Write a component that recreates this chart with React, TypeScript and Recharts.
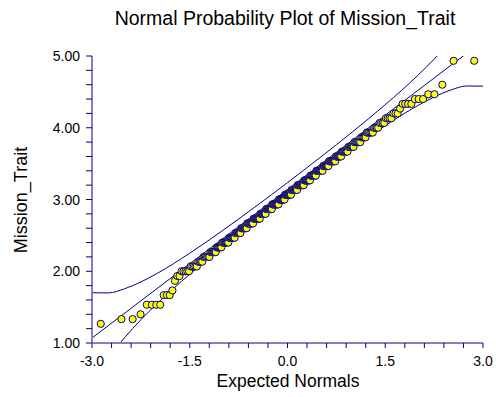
import { ComposedChart, Line, Scatter, XAxis, YAxis } from 'recharts';

// distinct Mission_Trait scores and how many respondents sit at each one (n = 300)
const traitLevels = [
  1.267, 1.333, 1.4, 1.533, 1.667, 1.733, 1.867, 1.933, 2.0, 2.067,
  2.133, 2.2, 2.267, 2.333, 2.4, 2.467, 2.533, 2.6, 2.667, 2.733,
  2.8, 2.867, 2.933, 3.0, 3.067, 3.133, 3.2, 3.267, 3.333, 3.4,
  3.467, 3.533, 3.6, 3.667, 3.733, 3.8, 3.867, 3.933, 4.0, 4.067,
  4.133, 4.2, 4.267, 4.333, 4.4, 4.467, 4.6, 4.933,
];
const levelCounts = [
  1, 2, 1, 4, 3, 1, 1, 2, 5, 5,
  4, 6, 6, 6, 8, 8, 8, 9, 10, 11,
  10, 11, 12, 11, 12, 11, 12, 11, 10, 11,
  9, 10, 8, 8, 7, 7, 5, 6, 4, 4,
  4, 3, 1, 4, 3, 2, 1, 2,
];

// reference line and confidence band
const fitX = [-3, 3];
const fitY = [1.07, 5.21];
const bandX = [-3, -2.75, -2.5, -2.25, -2, -1.75, -1.5, -1.25, -1, -0.75, -0.5, -0.25, 0, 0.25, 0.5, 0.75, 1, 1.25, 1.5, 1.75, 2, 2.25, 2.5, 2.75, 3];
const bandUpper = [1.7, 1.698, 1.756, 1.851, 1.97, 2.105, 2.252, 2.405, 2.565, 2.728, 2.895, 3.064, 3.235, 3.409, 3.585, 3.763, 3.945, 4.13, 4.322, 4.52, 4.73, 4.956, 5.206, 5.493, 5.84];
const bandLower = [0.44, 0.787, 1.074, 1.324, 1.55, 1.76, 1.959, 2.15, 2.335, 2.517, 2.695, 2.871, 3.045, 3.216, 3.385, 3.552, 3.715, 3.875, 4.029, 4.175, 4.31, 4.429, 4.524, 4.582, 4.58];

const xTicks = [-3, -2.7, -2.4, -2.1, -1.8, -1.5, -1.2, -0.9, -0.6, -0.3, 0, 0.3, 0.6, 0.9, 1.2, 1.5, 1.8, 2.1, 2.4, 2.7, 3];
const yTicks = [1, 1.2, 1.4, 1.6, 1.8, 2, 2.2, 2.4, 2.6, 2.8, 3, 3.2, 3.4, 3.6, 3.8, 4, 4.2, 4.4, 4.6, 4.8, 5];

const FONT = '"Liberation Sans", Arial, sans-serif';
const NAVY = '#000080';

// inverse standard normal cdf (Acklam)
function invNorm(p: number) {
  const a = [-39.69683028665376, 220.9460984245205, -275.9285104469687, 138.357751867269, -30.66479806614716, 2.506628277459239];
  const b = [-54.47609879822406, 161.5858368580409, -155.6989798598866, 66.80131188771972, -13.28068155288572];
  const c = [-0.007784894002430293, -0.3223964580411365, -2.400758277161838, -2.549732539343734, 4.374664141464968, 2.938163982698783];
  const d = [0.007784695709041462, 0.3224671290700398, 2.445134137142996, 3.754408661907416];
  const pl = 0.02425;
  if (p < pl) {
    const q = Math.sqrt(-2 * Math.log(p));
    return (((((c[0] * q + c[1]) * q + c[2]) * q + c[3]) * q + c[4]) * q + c[5]) / ((((d[0] * q + d[1]) * q + d[2]) * q + d[3]) * q + 1);
  }
  if (p > 1 - pl) {
    const q = Math.sqrt(-2 * Math.log(1 - p));
    return -(((((c[0] * q + c[1]) * q + c[2]) * q + c[3]) * q + c[4]) * q + c[5]) / ((((d[0] * q + d[1]) * q + d[2]) * q + d[3]) * q + 1);
  }
  const q = p - 0.5;
  const r = q * q;
  return ((((((a[0] * r + a[1]) * r + a[2]) * r + a[3]) * r + a[4]) * r + a[5]) * q) / (((((b[0] * r + b[1]) * r + b[2]) * r + b[3]) * r + b[4]) * r + 1);
}

// sorted scores against Blom expected normals
const buildPoints = () => {
  const sorted: number[] = [];
  traitLevels.forEach((v, i) => {
    for (let k = 0; k < levelCounts[i]; k++) sorted.push(v);
  });
  const n = sorted.length;
  return sorted.map((v, i) => ({ x: invNorm((i + 1 - 0.375) / (n + 0.25)), y: v }));
};

const points = buildPoints();
const fitData = fitX.map((x, i) => ({ x, y: fitY[i] }));
const upperData = bandX.map((x, i) => ({ x, y: bandUpper[i] }));
const lowerData = bandX.map((x, i) => ({ x, y: bandLower[i] }));

const YTick = (props: any) => {
  const { x, y, payload } = props;
  const v = payload.value;
  const major = Math.abs(v - Math.round(v)) < 1e-6;
  return (
    <g>
      <line x1={x - 6} y1={y} x2={x} y2={y} stroke={NAVY} strokeWidth={1} />
      {major && (
        <text x={x - 12} y={y + 5} textAnchor="end" fontSize={14} fontFamily={FONT} fill="#000">
          {v.toFixed(2)}
        </text>
      )}
    </g>
  );
};

const XTick = (props: any) => {
  const { x, y, payload } = props;
  const v = payload.value;
  const major = Math.abs(v / 1.5 - Math.round(v / 1.5)) < 1e-6;
  return (
    <g>
      <line x1={x} y1={y} x2={x} y2={y + 5} stroke={NAVY} strokeWidth={1} />
      {major && (
        <text x={x} y={y + 23} textAnchor="middle" fontSize={14} fontFamily={FONT} fill="#000">
          {v.toFixed(1)}
        </text>
      )}
    </g>
  );
};

const Dot = (props: any) => {
  const { cx, cy } = props;
  return <circle cx={cx} cy={cy} r={3.6} fill="#ffff00" stroke={NAVY} strokeWidth={1} />;
};

export default function App() {
  return (
    <div style={{ position: 'absolute', left: 0, top: 0, width: 496, height: 397, background: '#fff' }}>
      <ComposedChart width={496} height={397} margin={{ top: 56, right: 13, bottom: 53, left: 91 }}>
        <XAxis
          dataKey="x"
          type="number"
          domain={[-3, 3]}
          ticks={xTicks}
          interval={0}
          allowDataOverflow
          height={1}
          tickSize={0}
          tickMargin={0}
          tick={<XTick />}
          axisLine={{ stroke: '#8080c4', strokeWidth: 2 }}
        />
        <YAxis
          dataKey="y"
          type="number"
          domain={[1, 5]}
          ticks={yTicks}
          interval={0}
          allowDataOverflow
          width={1}
          tickSize={0}
          tickMargin={0}
          tick={<YTick />}
          axisLine={{ stroke: '#8080c4', strokeWidth: 2 }}
        />
        <Line data={upperData} dataKey="y" type="monotone" stroke={NAVY} strokeWidth={1} dot={false} activeDot={false} isAnimationActive={false} />
        <Line data={lowerData} dataKey="y" type="monotone" stroke={NAVY} strokeWidth={1} dot={false} activeDot={false} isAnimationActive={false} />
        <Line data={fitData} dataKey="y" type="linear" stroke={NAVY} strokeWidth={1} dot={false} activeDot={false} isAnimationActive={false} />
        <Scatter data={points} dataKey="y" shape={<Dot />} isAnimationActive={false} />
      </ComposedChart>
      <svg width={496} height={397} style={{ position: 'absolute', left: 0, top: 0, pointerEvents: 'none' }}>
        <text x={285} y={25} textAnchor="middle" fontSize={19.5} fontFamily={FONT} fill="#000">
          Normal Probability Plot of Mission_Trait
        </text>
        <text x={288} y={387} textAnchor="middle" fontSize={17.5} fontFamily={FONT} fill="#000">
          Expected Normals
        </text>
        <text transform="translate(27,200) rotate(-90)" textAnchor="middle" fontSize={18} fontFamily={FONT} fill="#000">
          Mission_Trait
        </text>
      </svg>
    </div>
  );
}
